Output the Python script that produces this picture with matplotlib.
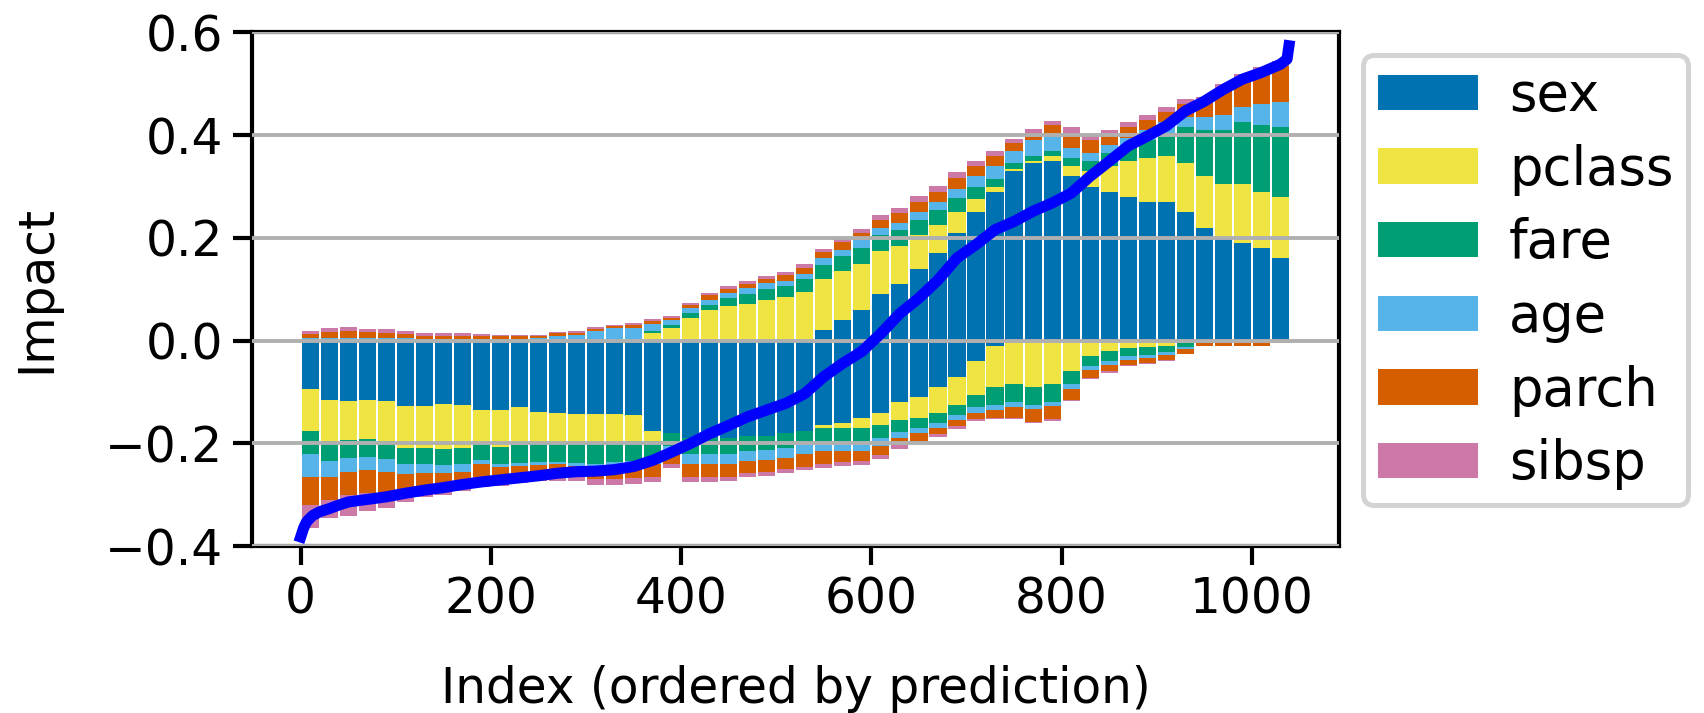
import numpy as np
import matplotlib
matplotlib.use("Agg")
import matplotlib.pyplot as plt

# features in stacking order
features = ["sex", "pclass", "fare", "age", "parch", "sibsp"]
colors = ["#0072B2", "#F0E442", "#009E73", "#56B4E9", "#D55E00", "#CC79A7"]

n_samples = 1040
bin_size = 20  # each bar below = mean of 20 consecutive samples

# positive / negative parts of each feature's impact, one value per bin of 20
sex_pos = [0]*27 + [0.02, 0.04, 0.06, 0.09, 0.11, 0.14, 0.17, 0.21, 0.25, 0.29,
                    0.33, 0.345, 0.35, 0.32, 0.30, 0.29, 0.28, 0.27, 0.27, 0.25,
                    0.22, 0.20, 0.19, 0.18, 0.16]
sex_neg = [-0.095, -0.115, -0.118, -0.116, -0.118, -0.127, -0.127, -0.124, -0.125, -0.135,
           -0.134, -0.13, -0.138, -0.14, -0.142, -0.142, -0.142, -0.145, -0.175, -0.18,
           -0.19, -0.19, -0.19, -0.185, -0.185, -0.18, -0.175, -0.165, -0.16, -0.15,
           -0.14, -0.12, -0.11, -0.09, -0.07, -0.04, -0.01] + [0]*15

pclass_pos = [0]*18 + [0.015, 0.025, 0.045, 0.06, 0.068, 0.072, 0.08, 0.085, 0.095, 0.1,
                       0.095, 0.09, 0.085, 0.075, 0.065, 0.055, 0.04, 0.025, 0.01, 0.005,
                       0.005, 0.01, 0.02, 0.03, 0.05, 0.07, 0.085, 0.09, 0.095, 0.1,
                       0.105, 0.115, 0.11, 0.12]
pclass_neg = [-0.08, -0.08, -0.075, -0.075, -0.078, -0.082, -0.082, -0.086, -0.084, -0.065,
              -0.073, -0.073, -0.062, -0.06, -0.058, -0.058, -0.055, -0.05, -0.02] + [0]*8 + \
             [-0.005, -0.01, -0.02, -0.025, -0.035, -0.04, -0.05, -0.055, -0.065, -0.08,
              -0.085, -0.09, -0.085, -0.06, -0.03, -0.02, -0.015, -0.012, -0.01, -0.005] + [0]*5

fare_pos = [0]*18 + [0.003, 0.005, 0.008, 0.01, 0.015, 0.018, 0.02, 0.022, 0.025, 0.028,
                     0.03, 0.03, 0.03, 0.03, 0.03, 0.03, 0.028, 0.025, 0.015, 0.01,
                     0.01, 0.01, 0.015, 0.02, 0.025, 0.03, 0.035, 0.045, 0.07, 0.09,
                     0.105, 0.12, 0.13, 0.135]
fare_neg = [-0.045, -0.04, -0.035, -0.035, -0.035, -0.032, -0.032, -0.032, -0.032, -0.033,
            -0.033, -0.035, -0.036, -0.036, -0.038, -0.04, -0.04, -0.04, -0.035, -0.025,
            -0.03, -0.03, -0.03, -0.03, -0.028, -0.028, -0.025, -0.025, -0.025, -0.025,
            -0.025, -0.022, -0.02, -0.02, -0.02, -0.025, -0.035, -0.035, -0.035, -0.035,
            -0.025, -0.02, -0.02, -0.015, -0.015, -0.012, -0.008, -0.002, 0, 0,
            0, 0]

age_pos = [0.005, 0.006, 0.006, 0.006, 0.005, 0.005, 0.004, 0.004, 0.004, 0.004,
           0.004, 0.004, 0.005, 0.01, 0.012, 0.018, 0.025, 0.025, 0.015, 0.01,
           0.01, 0.01, 0.01, 0.012, 0.012, 0.01, 0.01, 0.012, 0.012, 0.015,
           0.015, 0.015, 0.015, 0.015, 0.018, 0.02, 0.025, 0.025, 0.03, 0.03,
           0.02, 0.015, 0.015, 0.015, 0.02, 0.02, 0.02, 0.025, 0.03, 0.03,
           0.04, 0.05]
age_neg = [-0.045, -0.03, -0.028, -0.025, -0.025, -0.018, -0.016, -0.015, -0.014, -0.008,
           -0.006, -0.006, -0.006, -0.005, -0.005, -0.005, -0.005, -0.005, -0.01, -0.015,
           -0.02, -0.02, -0.02, -0.02, -0.02, -0.02, -0.02, -0.02, -0.02, -0.02,
           -0.015, -0.012, -0.01, -0.01, -0.01, -0.01, -0.01, -0.01, -0.008, -0.008,
           -0.01, -0.008, -0.008, -0.008, -0.006, -0.006, -0.004, -0.002, -0.002, 0,
           0, 0]

parch_pos = [0.008, 0.01, 0.012, 0.01, 0.01, 0.008, 0.006, 0.006, 0.006, 0.005,
             0.005, 0.005, 0.004, 0.004, 0.003, 0.005, 0.003, 0.005, 0.006, 0.005,
             0.006, 0.008, 0.008, 0.008, 0.008, 0.01, 0.012, 0.012, 0.015, 0.015,
             0.015, 0.018, 0.02, 0.02, 0.02, 0.02, 0.02, 0.015, 0.015, 0.02,
             0.03, 0.025, 0.02, 0.02, 0.02, 0.02, 0.025, 0.03, 0.05, 0.055,
             0.06, 0.07]
parch_neg = [-0.055, -0.045, -0.045, -0.045, -0.04, -0.03, -0.028, -0.025, -0.025, -0.025,
             -0.022, -0.022, -0.022, -0.022, -0.022, -0.025, -0.027, -0.027, -0.025, -0.02,
             -0.025, -0.025, -0.025, -0.022, -0.022, -0.022, -0.025, -0.025, -0.022, -0.02,
             -0.018, -0.015, -0.015, -0.012, -0.012, -0.012, -0.015, -0.02, -0.025, -0.025,
             -0.02, -0.015, -0.012, -0.01, -0.01, -0.01, -0.008, -0.006, -0.008, -0.01,
             -0.01, -0.005]

sibsp_pos = [0.006, 0.008, 0.008, 0.007, 0.007, 0.006, 0.005, 0.005, 0.004, 0.004,
             0.003, 0.003, 0.003, 0.003, 0.003, 0.003, 0.002, 0.004, 0.004, 0.003,
             0.004, 0.005, 0.006, 0.006, 0.006, 0.007, 0.007, 0.007, 0.008, 0.008,
             0.01, 0.01, 0.012, 0.012, 0.012, 0.01, 0.01, 0.008, 0.008, 0.008,
             0.01, 0.01, 0.01, 0.01, 0.01, 0.01, 0.01, 0.01, 0.01, 0.01,
             0.012, 0.01]
sibsp_neg = [-0.045, -0.035, -0.04, -0.035, -0.03, -0.025, -0.02, -0.018, -0.012, -0.018,
             -0.014, -0.012, -0.01, -0.01, -0.008, -0.01, -0.012, -0.012, -0.01, -0.008,
             -0.01, -0.01, -0.008, -0.008, -0.008, -0.007, -0.007, -0.007, -0.007, -0.007,
             -0.007, -0.006, -0.005, -0.005, -0.004, -0.004, -0.003, -0.003, -0.003, -0.003,
             -0.003, -0.002, -0.002, -0.002, -0.002, -0.002, -0.001, 0, 0, 0,
             0, 0]

# prediction curve read at these sample indices
pred_idx = [0, 3, 6, 10, 13, 20, 30, 40, 50, 70, 90, 110, 130, 150, 170, 190, 210, 230,
            250, 270, 290, 310, 330, 350, 370, 390, 410, 430, 450, 470, 490, 510, 530,
            550, 570, 590, 610, 630, 650, 670, 690, 710, 730, 750, 770, 790, 810, 830,
            850, 870, 890, 910, 930, 950, 970, 990, 1010, 1030, 1037, 1039]
pred_val = [-0.382, -0.365, -0.353, -0.345, -0.34, -0.333, -0.327, -0.32, -0.314, -0.309,
            -0.304, -0.297, -0.291, -0.286, -0.28, -0.275, -0.271, -0.267, -0.263, -0.258,
            -0.255, -0.254, -0.251, -0.245, -0.233, -0.217, -0.2, -0.181, -0.165, -0.148,
            -0.135, -0.122, -0.103, -0.07, -0.044, -0.021, 0.014, 0.053, 0.083, 0.118,
            0.161, 0.187, 0.216, 0.232, 0.252, 0.268, 0.287, 0.32, 0.349, 0.379,
            0.398, 0.418, 0.447, 0.466, 0.489, 0.509, 0.522, 0.538, 0.548, 0.574]

pos = [sex_pos, pclass_pos, fare_pos, age_pos, parch_pos, sibsp_pos]
neg = [sex_neg, pclass_neg, fare_neg, age_neg, parch_neg, sibsp_neg]
for p, q in zip(pos, neg):
    assert len(p) == 52 and len(q) == 52, (len(p), len(q))

plt.rcParams['font.size'] = 17.5
fig = plt.figure(figsize=(8.52, 3.565), dpi=200)
ax = fig.add_axes([0.148, 0.234, 0.638, 0.7205])

x = np.arange(0, n_samples, bin_size) + bin_size / 2
top = np.zeros(len(x))
bot = np.zeros(len(x))
for name, c, p, q in zip(features, colors, pos, neg):
    p = np.array(p)
    q = np.array(q)
    ax.bar(x, p, width=bin_size * 0.9, bottom=top, color=c, label=name, linewidth=0)
    ax.bar(x, q, width=bin_size * 0.9, bottom=bot, color=c, linewidth=0)
    top += p
    bot += q

ax.plot(pred_idx, pred_val, color='blue', lw=4, zorder=3)

ax.set_xlim(-51, 1092)
ax.set_ylim(-0.4, 0.6)
ax.set_xticks([0, 200, 400, 600, 800, 1000])
ax.set_yticks([-0.4, -0.2, 0.0, 0.2, 0.4, 0.6])
ax.yaxis.grid(True, color='#b0b0b0', lw=1.4)
ax.set_axisbelow(False)
for s in ax.spines.values():
    s.set_linewidth(1.5)
ax.tick_params(length=7, width=1.5, pad=3.5)
ax.set_xlabel('Index (ordered by prediction)', labelpad=15)
ax.set_ylabel('Impact', labelpad=16)

leg = ax.legend(loc='center left', bbox_to_anchor=(1.0, 0.518), borderaxespad=0.45,
                fontsize=19, handlelength=1.9, handleheight=0.65, handletextpad=0.58,
                labelspacing=0.41, borderpad=0.28, framealpha=1)
leg.get_frame().set_edgecolor('#d3d3d3')
leg.get_frame().set_linewidth(1.8)

fig.savefig('out.png', dpi=200)
